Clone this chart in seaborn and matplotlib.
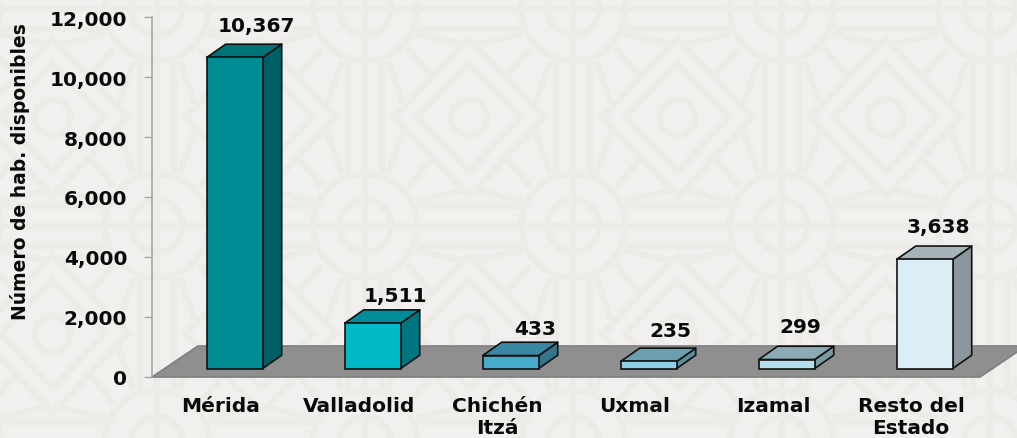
import pandas as pd
import seaborn as sns
import matplotlib.pyplot as plt
from matplotlib.patches import Polygon, Circle
from matplotlib.transforms import Affine2D

categories = ['Mérida', 'Valladolid', 'Chichén\nItzá', 'Uxmal', 'Izamal', 'Resto del\nEstado']
rooms = [10367, 1511, 433, 235, 299, 3638]
value_labels = ['10,367', '1,511', '433', '235', '299', '3,638']
y_ticks = [0, 2000, 4000, 6000, 8000, 10000, 12000]

front_colors = ['#008c95', '#00b9c6', '#45accb', '#8fcfe3', '#b5dfec', '#dceef5']
top_colors = ['#00737a', '#008c99', '#3a87a3', '#6a9fb0', '#8aabb5', '#a6b3b8']
side_colors = ['#005f66', '#00757f', '#35748a', '#5f8a99', '#7c9ca5', '#8a989e']

# label nudges in pixels, from the bar's front top corner
label_dx = [35, 36, 38, 35, 27, 27]
label_dy = [40, 36, 36, 39, 42, 41]

W, H = 1017, 439
BG = '#f1f0ee'
LINE = '#ecebe7'
INK = '#0a0a0a'


def draw_background(fig):
    """Draw the tiled ornament behind the chart, in pixel coordinates."""
    bg = fig.add_axes([0, 0, 1, 1], zorder=0)
    bg.set_xlim(0, W)
    bg.set_ylim(H, 0)
    bg.axis('off')
    lw = 4.6
    kw = dict(color=LINE, lw=lw, solid_capstyle='butt', zorder=1)

    def mirrored(cx, cy, x0, y0, x1, y1):
        for sx in (-1, 1):
            for sy in (-1, 1):
                bg.plot([cx + sx * x0, cx + sx * x1], [cy + sy * y0, cy + sy * y1], **kw)

    tile_w, tile_h = 208.3, 216.7
    for row in range(-1, 3):
        cy = 10 + row * tile_h
        bg.plot([0, W], [cy, cy], **kw)
        for col in range(-2, 5):
            cx = 365 + col * tile_w
            if row == -1:
                bg.plot([cx, cx], [0, H], **kw)
            for r in (52, 26):
                bg.add_patch(Circle((cx, cy), r, fill=False, ec=LINE, lw=lw, zorder=1))
            for off in (-20, 20):
                bg.plot([cx + 52, cx + tile_w - 52], [cy + off, cy + off], **kw)
            for off in (-17, 17):
                bg.plot([cx + off, cx + off], [cy + 52, cy + tile_h - 52], **kw)
            # diamond centred between four circles
            dx, dy = cx + tile_w / 2, cy + tile_h / 2
            for hw, hh in ((75, 79), (52, 54)):
                bg.add_patch(Polygon([(dx - hw, dy), (dx, dy - hh), (dx + hw, dy), (dx, dy + hh)],
                                     closed=True, fill=False, ec=LINE, lw=lw, zorder=1))
            bg.add_patch(Circle((dx, dy), 18, fill=False, ec=LINE, lw=lw, zorder=1))
            mirrored(dx, dy, 4, 72, 53, 84)
            mirrored(dx, dy, 66, 14, 81, 56)
            mirrored(dx, dy, 61, 69, 39, 43)


def draw_3d_bars(ax, fig):
    """Add floor, side and top faces around the seaborn bars."""
    floor_dx, floor_dy = 46, 31
    shift_x, shift_y = 13.7, 8.5
    depth_x, depth_y = 19, 13.3

    to_px = ax.transData.transform
    (x0, y0), (x1, _) = to_px([(-0.5, 0), (5.5, 0)])
    floor = Polygon([(x0, y0), (x1, y0), (x1 + floor_dx, y0 + floor_dy), (x0 + floor_dx, y0 + floor_dy)],
                    closed=True, fc='#8f8f8f', ec='#7f7f7f', lw=1.2, zorder=1.5,
                    transform=None, clip_on=False)
    fig.add_artist(floor)
    floor.set_zorder(1.5)

    # bars stand a bit behind the axis zero
    shift = ax.transData + Affine2D().translate(shift_x, shift_y)
    patches = sorted(ax.patches, key=lambda p: p.get_x())
    for i, p in enumerate(patches):
        p.set_transform(shift)
        p.set_clip_on(False)
        p.set_zorder(3)
        bx0, by0 = to_px((p.get_x(), 0)) + (shift_x, shift_y)
        bx1, by1 = to_px((p.get_x() + p.get_width(), p.get_height())) + (shift_x, shift_y)
        side = [(bx1, by0), (bx1 + depth_x, by0 + depth_y), (bx1 + depth_x, by1 + depth_y), (bx1, by1)]
        top = [(bx0, by1), (bx1, by1), (bx1 + depth_x, by1 + depth_y), (bx0 + depth_x, by1 + depth_y)]
        for pts, color in ((side, side_colors[i]), (top, top_colors[i])):
            ax.add_patch(Polygon(pts, closed=True, fc=color, ec='#111111', lw=1.2, joinstyle='round',
                                 transform=None, clip_on=False, zorder=2.5))


def main():
    sns.set_theme(style='white')
    plt.rcParams['font.family'] = ['DejaVu Sans']
    plt.rcParams['font.weight'] = 'bold'

    fig = plt.figure(figsize=(W / 100, H / 100), dpi=100, facecolor=BG)
    draw_background(fig)

    ax = fig.add_axes([152 / W, (H - 378) / H, 828 / W, 360 / H], zorder=2)
    ax.patch.set_alpha(0)
    df = pd.DataFrame({'destino': categories, 'cuartos': rooms})
    sns.barplot(data=df, x='destino', y='cuartos', hue='destino', palette=front_colors, legend=False,
                width=0.406, edgecolor='#111111', linewidth=1.2, saturation=1, ax=ax)

    ax.set_xlim(-0.5, 5.5)
    ax.set_ylim(0, 12000)
    ax.set_yticks(y_ticks)
    ax.set_yticklabels([f'{t:,}' for t in y_ticks])
    ax.tick_params(axis='y', left=True, length=5.8, width=1, color='#a6a6a6', pad=12,
                   labelsize=14.5, labelcolor=INK)
    ax.tick_params(axis='x', bottom=False, pad=8, labelsize=14.5, labelcolor=INK)
    for label in ax.get_yticklabels() + ax.get_xticklabels():
        label.set_fontweight('bold')
        label.set_linespacing(1.15)
    ax.set_xlabel('')
    ax.set_ylabel('')
    fig.text(20 / W, 1 - 172 / H, 'Número de hab. disponibles', rotation=90, ha='center', va='center',
             fontsize=13.5, fontweight='bold', color=INK, zorder=5)
    sns.despine(ax=ax, bottom=True)
    ax.spines['left'].set_color('#a6a6a6')
    ax.spines['left'].set_linewidth(1.2)

    draw_3d_bars(ax, fig)

    for i, text in enumerate(value_labels):
        ax.annotate(text, xy=(i, rooms[i]), xytext=(label_dx[i], label_dy[i]), textcoords='offset pixels',
                    ha='center', va='center', fontsize=14.5, fontweight='bold', color=INK,
                    annotation_clip=False, zorder=6)

    fig.savefig('out.png', dpi=100, facecolor=BG)


if __name__ == '__main__':
    main()
